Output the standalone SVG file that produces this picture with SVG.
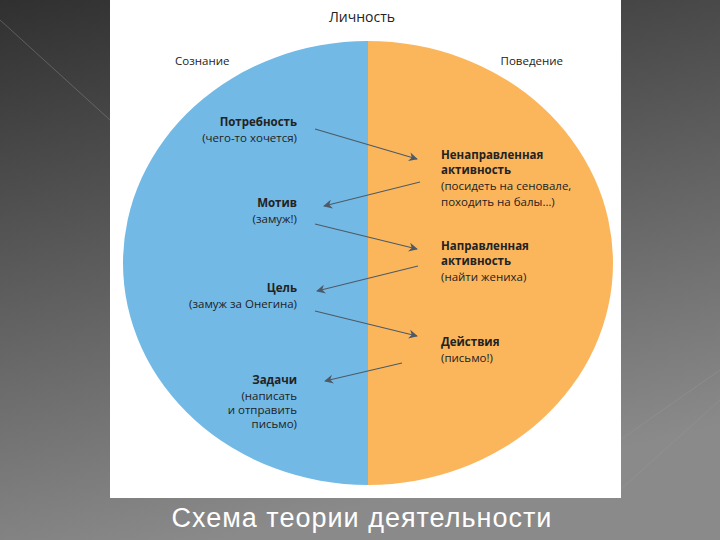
<svg xmlns="http://www.w3.org/2000/svg" width="720" height="540" viewBox="0 0 720 540">
<defs>
<linearGradient id="bg" x1="0" y1="0" x2="0.3" y2="1"><stop offset="0" stop-color="#303030"/><stop offset="1" stop-color="#8a8a8a"/></linearGradient>
<marker id="ah" viewBox="0 0 10 10" refX="9" refY="5" markerWidth="9" markerHeight="9" orient="auto" markerUnits="userSpaceOnUse"><path d="M0,0 L10,5 L0,10 L3,5 Z" fill="#4d5a66"/></marker>
<clipPath id="cl"><ellipse cx="368" cy="263" rx="245" ry="222"/></clipPath>
</defs>
<style>
text{font-family:"Open Sans","Liberation Sans",sans-serif;fill:#222;font-size:11.5px}
.b{font-weight:bold}
.r{text-anchor:end}
.c line{stroke:#4d5a66;stroke-width:1.2;marker-end:url(#ah)}
</style>
<rect width="720" height="540" fill="url(#bg)"/>
<g stroke="#9a9a9a" stroke-width="1" opacity="0.4" fill="none">
<path d="M0,20 L110,120"/><path d="M620,490 L720,400"/><path d="M620,440 L720,370"/>
</g>
<rect x="110" y="0" width="511" height="498" fill="#fff"/>
<g clip-path="url(#cl)">
<rect x="100" y="30" width="268" height="470" fill="#72b9e6"/>
<rect x="368" y="30" width="260" height="470" fill="#fbb65c"/>
</g>
<g id="title"><text x="362" y="22" text-anchor="middle" style="font-size:14px">Личность</text></g>
<g id="soz"><text x="175" y="65">Сознание</text></g>
<g id="pov"><text x="563" y="65" class="r">Поведение</text></g>
<g id="n1"><text x="297" y="126" class="r b">Потребность</text><text x="297" y="142" class="r">(чего-то хочется)</text></g>
<g id="n2"><text x="297" y="207" class="r b">Мотив</text><text x="297" y="223" class="r">(замуж!)</text></g>
<g id="n3"><text x="297" y="292" class="r b">Цель</text><text x="297" y="308" class="r">(замуж за Онегина)</text></g>
<g id="n4"><text x="297" y="384" class="r b">Задачи</text><text x="297" y="400" class="r">(написать</text><text x="297" y="414" class="r">и отправить</text><text x="297" y="428" class="r">письмо)</text></g>
<g id="m1"><text x="441" y="159" class="b">Ненаправленная</text><text x="441" y="174" class="b">активность</text><text x="441" y="190">(посидеть на сеновале,</text><text x="441" y="206">походить на балы…)</text></g>
<g id="m2"><text x="441" y="250" class="b">Направленная</text><text x="441" y="265" class="b">активность</text><text x="441" y="281">(найти жениха)</text></g>
<g id="m3"><text x="441" y="346" class="b">Действия</text><text x="441" y="362">(письмо!)</text></g>
<g class="c">
<line x1="315" y1="129" x2="417" y2="159"/>
<line x1="420" y1="182" x2="324" y2="206"/>
<line x1="315" y1="224" x2="417" y2="249"/>
<line x1="418" y1="266" x2="317" y2="291"/>
<line x1="315" y1="311" x2="417" y2="336"/>
<line x1="402" y1="363" x2="325" y2="381"/>
</g>
<text x="362" y="527" text-anchor="middle" style="font-family:'Liberation Sans',sans-serif;font-size:27px;fill:#fff;font-weight:normal;letter-spacing:1px">Схема  теории  деятельности</text>
</svg>
